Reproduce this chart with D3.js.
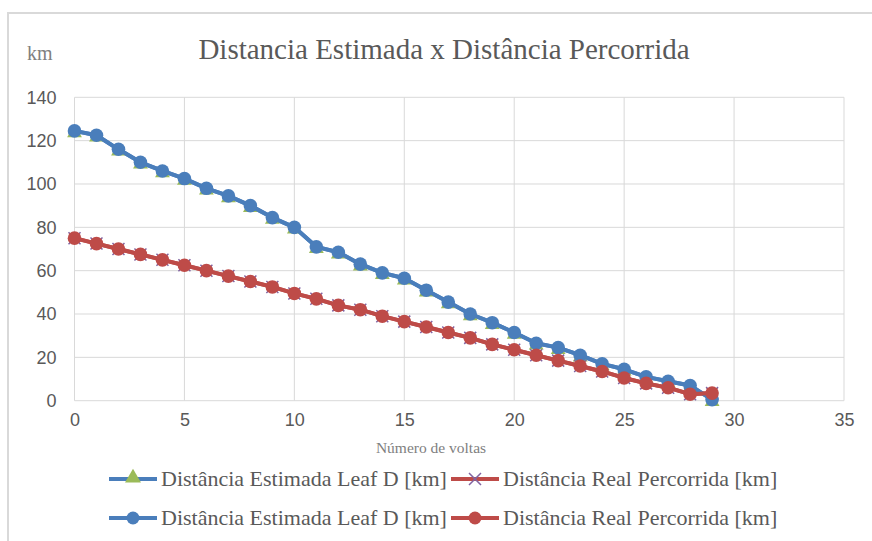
<!DOCTYPE html>
<html>
<head>
<meta charset="utf-8">
<script src="https://cdn.jsdelivr.net/npm/d3@7"></script>
<style>
  body { margin: 0; background: #fff; }
  svg { display: block; }
</style>
</head>
<body>
<svg width="872" height="541"></svg>
<script>
// values
var voltas = d3.range(0, 30)
var estimadaTri = [124.5,122.5,116,110,106,102.5,98,94.5,90,84.5,80,71,68.5,63,59,56.5,51,45.5,40,36,31.5,26.5,24.5,21,17,14.5,11,9,7,0.5]
var realX = [75,72.5,70,67.5,65,62.5,60,57.5,55,52.5,49.5,47,44,42,39,36.5,34,31.5,29,26,23.5,21,18.5,16,13.5,10.5,8,6,3,3.5]
var estimada = [124.5,122.5,116,110,106,102.5,98,94.5,90,84.5,80,71,68.5,63,59,56.5,51,45.5,40,36,31.5,26.5,24.5,21,17,14.5,11,9,7,0.5]
var real = [75,72.5,70,67.5,65,62.5,60,57.5,55,52.5,49.5,47,44,42,39,36.5,34,31.5,29,26,23.5,21,18.5,16,13.5,10.5,8,6,3,3.5]
var xTicks = [0,5,10,15,20,25,30,35]
var yTicks = [0,20,40,60,80,100,120,140]
var legendNames = ['Distância Estimada Leaf D [km]', 'Distância Real Percorrida [km]']

var blue = '#4a7ebb', red = '#be4b48', green = '#9bbb59', purple = '#8064a2'
var serif = '"Liberation Serif", "Times New Roman", serif'
var sans = '"Liberation Sans", Arial, sans-serif'

var svg = d3.select('svg')

// outer frame
svg.append('rect')
    .attr('x', 8).attr('y', 13)
    .attr('width', 900).attr('height', 600)
    .attr('fill', 'none')
    .attr('stroke', '#d9d9d9')
    .attr('stroke-width', 2)

var x = d3.scaleLinear().domain([0, 35]).range([74.5, 844])
var y = d3.scaleLinear().domain([0, 140]).range([400.7, 97.3])

// grid
var grid = svg.append('g')
grid.selectAll('.vg').data(xTicks).enter().append('line')
    .attr('x1', function(d){return x(d)}).attr('x2', function(d){return x(d)})
    .attr('y1', y(0)).attr('y2', y(140))
    .attr('stroke', '#d9d9d9').attr('stroke-width', 1)
grid.selectAll('.hg').data(yTicks).enter().append('line')
    .attr('x1', x(0)).attr('x2', x(35))
    .attr('y1', function(d){return y(d)}).attr('y2', function(d){return y(d)})
    .attr('stroke', '#d9d9d9').attr('stroke-width', 1)

// axes (labels only)
var xAxis = svg.append('g')
    .attr('transform', 'translate(0,' + y(0) + ')')
    .call(d3.axisBottom(x).tickValues(xTicks).tickSize(0).tickPadding(20))
var yAxis = svg.append('g')
    .attr('transform', 'translate(' + x(0) + ',0)')
    .call(d3.axisLeft(y).tickValues(yTicks).tickSize(0).tickPadding(18))
;[xAxis, yAxis].forEach(function(a) {
    a.select('.domain').remove()
    a.selectAll('text')
	.style('font-family', sans)
	.style('font-size', '18px')
	.attr('fill', '#595959')
})
xAxis.selectAll('text').attr('dy', '0.3em')

// titles
svg.append('text')
    .attr('x', 444).attr('y', 59)
    .attr('text-anchor', 'middle')
    .style('font-family', serif).style('font-size', '29px')
    .attr('fill', '#595959')
    .text('Distancia Estimada x Distância Percorrida')
svg.append('text')
    .attr('x', 27).attr('y', 60)
    .style('font-family', serif).style('font-size', '20px')
    .attr('fill', '#808080')
    .text('km')
svg.append('text')
    .attr('x', 431).attr('y', 453)
    .attr('text-anchor', 'middle')
    .style('font-family', serif).style('font-size', '15.5px')
    .attr('fill', '#808080')
    .text('Número de voltas')

var lineFunc = d3.line()
    .x(function(d, i){return x(voltas[i])})
    .y(function(d){return y(d)})

function triangle(g, cx, cy, s) {
    g.append('path')
	.attr('d', d3.symbol().type(d3.symbolTriangle).size(s)())
	.attr('transform', 'translate(' + cx + ',' + cy + ')')
	.attr('fill', green)
}
function cross(g, cx, cy, r) {
    g.append('path')
	.attr('d', 'M' + (cx-r) + ',' + (cy-r) + 'L' + (cx+r) + ',' + (cy+r) +
	      'M' + (cx-r) + ',' + (cy+r) + 'L' + (cx+r) + ',' + (cy-r))
	.attr('stroke', purple).attr('stroke-width', 1.5)
}

// hidden series (triangle / x) sit under the visible ones
var series = [
    {vals: estimadaTri, color: blue, mark: 'tri'},
    {vals: realX, color: red, mark: 'x'},
    {vals: estimada, color: blue, mark: 'circle'},
    {vals: real, color: red, mark: 'circle'}
]
var plot = svg.append('g')
series.forEach(function(s) {
    var g = plot.append('g')
    g.append('path')
	.attr('d', lineFunc(s.vals))
	.attr('fill', 'none')
	.attr('stroke', s.color)
	.attr('stroke-width', 4)
	.attr('stroke-linejoin', 'round')
    s.vals.forEach(function(v, i) {
	var cx = x(voltas[i]), cy = y(v)
	if (s.mark == 'tri') triangle(g, cx, cy + 2, 95)
	else if (s.mark == 'x') cross(g, cx, cy, 6)
	else g.append('circle').attr('cx', cx).attr('cy', cy).attr('r', 6.8).attr('fill', s.color)
    })
})

// legend
var legend = svg.append('g')
var rows = [
    [{color: blue, mark: 'tri', name: legendNames[0], x: 109},
     {color: red, mark: 'x', name: legendNames[1], x: 451}],
    [{color: blue, mark: 'circle', name: legendNames[0], x: 109},
     {color: red, mark: 'circle', name: legendNames[1], x: 451}]
]
rows.forEach(function(row, r) {
    var ly = 479 + r * 39
    row.forEach(function(it) {
	legend.append('line')
	    .attr('x1', it.x).attr('x2', it.x + 48)
	    .attr('y1', ly).attr('y2', ly)
	    .attr('stroke', it.color).attr('stroke-width', 4)
	var mx = it.x + 24
	if (it.mark == 'tri') triangle(legend, mx, ly - 1, 110)
	else if (it.mark == 'x') cross(legend, mx, ly, 6)
	else legend.append('circle').attr('cx', mx).attr('cy', ly).attr('r', 6.5).attr('fill', it.color)
	legend.append('text')
	    .attr('x', it.x + 52).attr('y', ly + 7)
	    .style('font-family', serif).style('font-size', '22px')
	    .attr('fill', '#595959')
	    .text(it.name)
    })
})
</script>
</body>
</html>
